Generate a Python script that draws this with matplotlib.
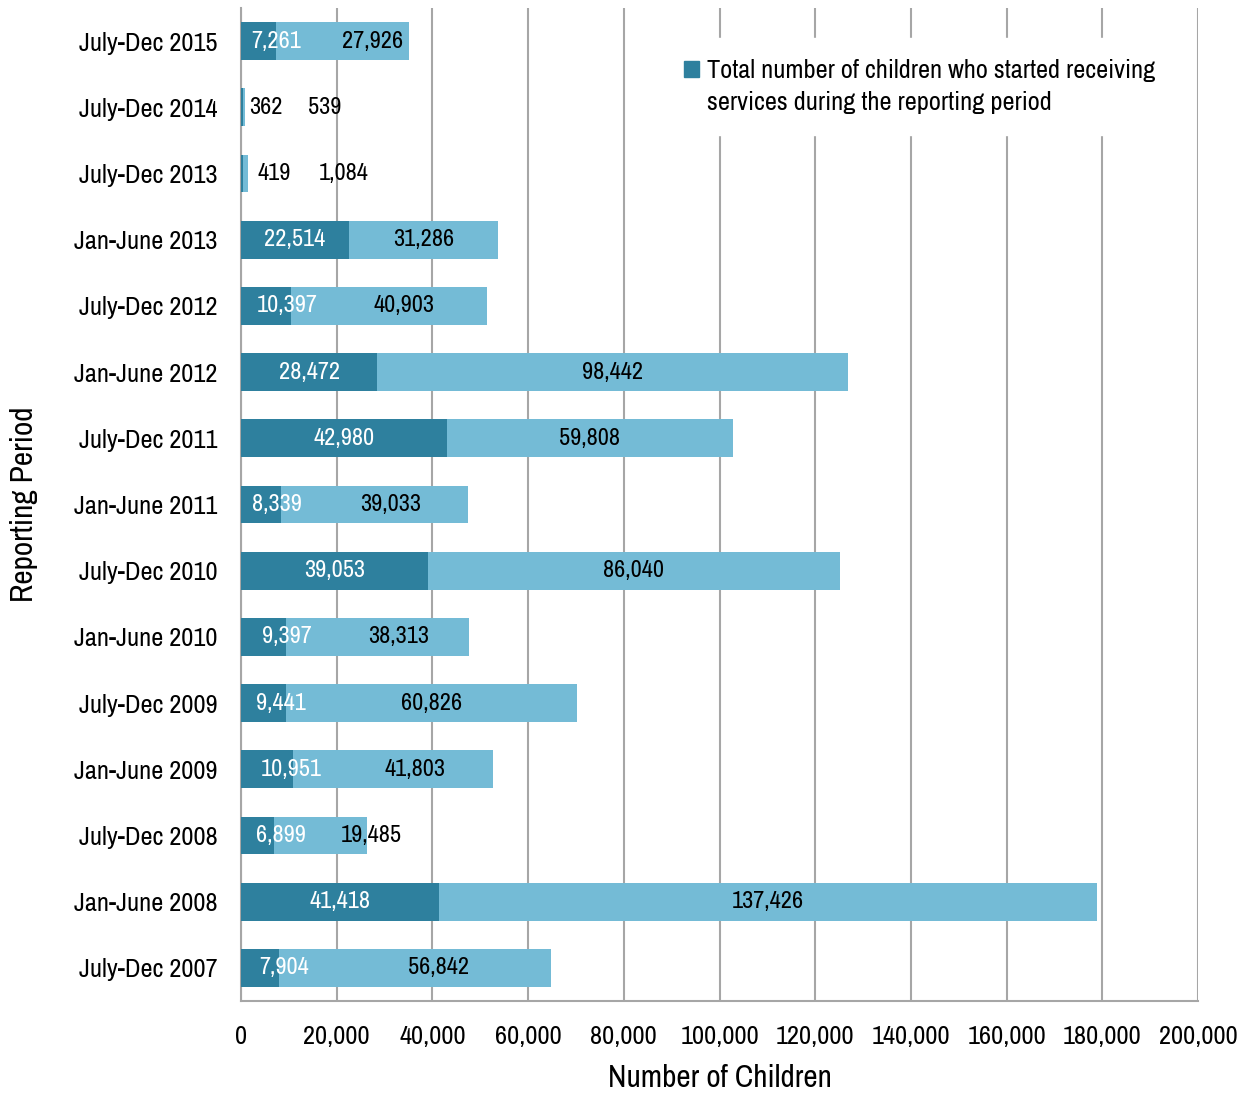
import matplotlib
matplotlib.use("Agg")
import matplotlib.pyplot as plt
from matplotlib.patches import Patch
from matplotlib.ticker import FuncFormatter

plt.rcParams['font.family'] = ['Archivo Narrow', 'Liberation Sans', 'DejaVu Sans']

# bottom to top
periods = ["July-Dec 2007", "Jan-June 2008", "July-Dec 2008", "Jan-June 2009",
           "July-Dec 2009", "Jan-June 2010", "July-Dec 2010", "Jan-June 2011",
           "July-Dec 2011", "Jan-June 2012", "July-Dec 2012", "Jan-June 2013",
           "July-Dec 2013", "July-Dec 2014", "July-Dec 2015"]
started = [7904, 41418, 6899, 10951, 9441, 9397, 39053, 8339,
           42980, 28472, 10397, 22514, 419, 362, 7261]
total = [56842, 137426, 19485, 41803, 60826, 38313, 86040, 39033,
         59808, 98442, 40903, 31286, 1084, 539, 27926]

# label nudges away from segment centre (data units), as Excel placed them
dark_shift = [5000, 0, 4900, 5000, 3600, 4900, 0, 3300,
              0, 0, 4400, 0, 6700, 5000, 3700]
light_shift = [5000, 0, 10500, 4500, 0, 4300, 0, 3300,
               0, 0, 3200, 0, 20400, 16900, 6200]

dark = "#2E809E"
light = "#74BBD6"
grid = "#A6A6A6"

fig = plt.figure(figsize=(12.47, 10.94), dpi=100)
ax = fig.add_axes([0.1933, 0.085, 0.7675, 0.9077])

y = list(range(len(periods)))
ax.barh(y, started, height=0.57, color=dark, zorder=3)
ax.barh(y, total, left=started, height=0.57, color=light, zorder=3)

for i in y:
    s, t = started[i], total[i]
    xs = s / 2 + dark_shift[i]
    xt = s + t / 2 + light_shift[i]
    cs = "black" if xs > s + t else "white"
    ax.text(xs, i, f"{s:,}", color=cs, ha="center", va="center", fontsize=17.5, zorder=4)
    ax.text(xt, i, f"{t:,}", color="black", ha="center", va="center", fontsize=17.5, zorder=4)

ax.set_xlim(0, 200000)
ax.set_ylim(-0.5, len(periods) - 0.5)
ax.set_xticks(range(0, 200001, 20000))
ax.xaxis.set_major_formatter(FuncFormatter(lambda v, p: f"{int(v):,}"))
ax.set_yticks(y)
ax.set_yticklabels(periods)
ax.tick_params(axis="x", length=0, pad=17, labelsize=19, colors="black")
ax.tick_params(axis="y", length=0, pad=17, labelsize=19, colors="black")

ax.grid(axis="x", color=grid, linewidth=1.5, zorder=0)
ax.set_axisbelow(True)
for side in ["top", "right"]:
    ax.spines[side].set_visible(False)
for side in ["left", "bottom"]:
    ax.spines[side].set_color(grid)
    ax.spines[side].set_linewidth(1.5)

ax.set_xlabel("Number of Children", fontsize=22.5, labelpad=12)
ax.set_ylabel("Reporting Period", fontsize=22.5, labelpad=26)

leg = ax.legend(handles=[Patch(color=dark,
                               label="Total number of children who started receiving\nservices during the reporting period")],
                loc="upper left", bbox_to_anchor=(650 / 1247, 1 - 25 / 1094),
                bbox_transform=fig.transFigure, fontsize=19,
                frameon=True, fancybox=False, handlelength=0.55, handleheight=0.55,
                handletextpad=0.3, borderpad=0.8)
leg.get_texts()[0].set_linespacing(1.45)
leg.get_frame().set_edgecolor("white")
leg.get_frame().set_facecolor("white")
leg.get_frame().set_alpha(1)
leg.set_zorder(5)
for h in leg.legend_handles:
    h.set_y(h.get_y() + 13)

fig.savefig("out.png", dpi=100)
